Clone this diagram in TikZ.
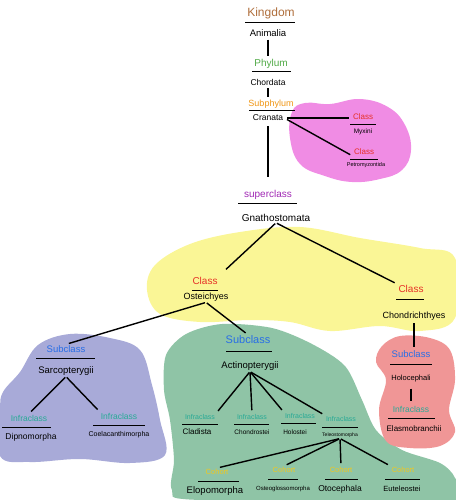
\documentclass[tikz,border=0pt]{standalone}
\usepackage{fontspec}
\setmainfont{Liberation Sans}
\newcommand{\fs}[1]{\fontsize{#1}{#1}\selectfont}
\begin{document}
\begin{tikzpicture}[x=1pt,y=-1pt,
  rank/.style={inner sep=1pt,font=\fs{9}},
  taxon/.style={inner sep=1pt,font=\fs{9}},
  ul/.style={line width=0.9pt},
  link/.style={line width=1.4pt,shorten >=2pt,shorten <=2pt},
  branch/.style={line width=1.4pt,shorten >=3pt,shorten <=1pt}]
\useasboundingbox (0,0) rectangle (455,500);
\definecolor{cpink}{RGB}{240,140,228}
\definecolor{cyellow}{RGB}{250,246,150}
\definecolor{clav}{RGB}{168,170,216}
\definecolor{cgreen}{RGB}{143,196,166}
\definecolor{csalmon}{RGB}{240,150,150}
\definecolor{cbrown}{RGB}{175,110,60}
\definecolor{cgr}{RGB}{80,170,70}
\definecolor{corange}{RGB}{240,150,20}
\definecolor{cpurp}{RGB}{160,40,180}
\definecolor{cred}{RGB}{230,50,40}
\definecolor{cblue}{RGB}{40,110,230}
\definecolor{cteal}{RGB}{40,170,150}
\definecolor{cgold}{RGB}{240,200,30}
% blobs
\fill[cpink] plot[smooth cycle,tension=0.7] coordinates {(292,112) (305,103) (330,104) (360,99) (388,107) (405,125) (411,150) (402,170) (380,179) (352,182) (325,176) (300,164) (290,138)};
\fill[cyellow] plot[smooth cycle,tension=0.6] coordinates {(155,265) (190,244) (240,232) (300,227) (360,238) (420,248) (455,258) (455,318) (420,331) (380,326) (330,331) (290,322) (250,320) (200,322) (160,314) (147,290)};
\fill[clav] plot[smooth cycle,tension=0.6] coordinates {(3,392) (20,372) (38,345) (70,334) (110,338) (140,350) (152,385) (160,420) (165,455) (130,463) (80,459) (30,462) (0,456) (0,410)};
\fill[cgreen] plot[smooth cycle,tension=0.5] coordinates {(166,355) (186,334) (222,324) (272,328) (312,344) (345,366) (362,400) (376,430) (402,450) (440,463) (455,478) (455,500) (200,500) (172,490) (174,460) (170,420) (164,390)};
\fill[csalmon] plot[smooth cycle,tension=0.6] coordinates {(382,346) (400,336) (430,338) (450,350) (455,380) (449,410) (455,432) (440,446) (410,448) (386,441) (379,410) (386,380) (376,362)};
% top chain
\node[rank,text=cbrown,font=\fs{12}] (lkingdom) at (271,13) {Kingdom};
\draw[ul] (245,22) -- (295,22);
\node[taxon,font=\fs{9.5}] (animalia) at (268,33) {Animalia};
\node[rank,text=cgr,font=\fs{10}] (lphylum) at (271,64) {Phylum};
\draw[ul] (252,71) -- (291,71);
\node[taxon,font=\fs{8.5}] (chordata) at (268,82) {Chordata};
\node[rank,text=corange,font=\fs{9}] (lsubphylum) at (271,104) {Subphylum};
\draw[ul] (249,110) -- (295,110);
\node[taxon,font=\fs{8.5}] (cranata) at (268,118) {Cranata};
\draw[link] (animalia.south) -- (animalia.south |- lphylum.north);
\draw[link] (chordata.south) -- (chordata.south |- lsubphylum.north);
% agnathans
\node[rank,text=cred,font=\fs{8}] (lclassa) at (363,117) {Class};
\draw[ul] (350,124) -- (376,124);
\node[taxon,font=\fs{6.5}] (myxini) at (363,132) {Myxini};
\node[rank,text=cred,font=\fs{8}] (lclassb) at (364,152) {Class};
\draw[ul] (350,159) -- (378,159);
\node[taxon,font=\fs{5.5}] (petro) at (366,165) {Petromyzontida};
\draw[branch,shorten <=3pt] (cranata.east) -- (lclassa.west |- cranata.east);
\draw[branch,shorten <=3pt] (cranata.east) -- (lclassb.south west);
% superclass
\node[rank,text=cpurp,font=\fs{10}] (lsuper) at (268,195) {superclass};
\draw[ul] (238,203) -- (297,203);
\node[taxon,font=\fs{10}] (gnatho) at (276,218) {Gnathostomata};
\draw[link,shorten >=12pt,shorten <=4pt] (cranata.south) -- (lsuper.north);
% classes
\node[rank,text=cred,font=\fs{10}] (lclassc) at (205,281) {Class};
\draw[ul] (192,290) -- (218,290);
\node[taxon,font=\fs{9}] (osteich) at (206,297) {Osteichyes};
\node[rank,text=cred,font=\fs{10}] (lclassd) at (411,289) {Class};
\draw[ul] (396,299) -- (424,299);
\node[taxon,font=\fs{9}] (chondr) at (414,316) {Chondrichthyes};
\draw[branch,shorten >=10pt] (gnatho.south) -- (lclassc.north east);
\draw[branch] (gnatho.south) -- (lclassd.north west);
% osteichthyes branches
\node[rank,text=cblue,font=\fs{9.5}] (lsubsarc) at (66,349) {Subclass};
\draw[ul] (36,358) -- (95,358);
\node[taxon,font=\fs{9.5}] (sarco) at (66,371) {Sarcopterygii};
\node[rank,text=cblue,font=\fs{11}] (lsubact) at (248,340) {Subclass};
\draw[ul] (226,351) -- (272,351);
\node[taxon,font=\fs{9.5}] (actino) at (250,366) {Actinopterygii};
\draw[branch] (osteich.south) -- (lsubsarc.north);
\draw[branch] (osteich.south) -- (lsubact.north);
% sarcopterygii
\node[rank,text=cteal,font=\fs{8.5}] (linfdip) at (29,418) {Infraclass};
\draw[ul] (2,427) -- (51,427);
\node[taxon,font=\fs{8.5}] (dipno) at (31,437) {Dipnomorpha};
\node[rank,text=cteal,font=\fs{8.5}] (linfcoe) at (119,416) {Infraclass};
\draw[ul] (93,425) -- (145,425);
\node[taxon,font=\fs{7}] (coela) at (119,435) {Coelacanthimorpha};
\draw[branch] (sarco.south) -- (linfdip.north);
\draw[branch] (sarco.south) -- (linfcoe.north west);
% actinopterygii
\node[rank,text=cteal,font=\fs{7}] (linf1) at (200,417) {Infraclass};
\draw[ul] (182,424) -- (218,424);
\node[taxon,font=\fs{8}] (clad) at (197,432) {Cladista};
\node[rank,text=cteal,font=\fs{7}] (linf2) at (252,417) {Infraclass};
\draw[ul] (234,424) -- (269,424);
\node[taxon,font=\fs{6.5}] (chond) at (252,432) {Chondrostei};
\node[rank,text=cteal,font=\fs{7}] (linf3) at (300,416) {Infraclass};
\draw[ul] (281,423) -- (316,423);
\node[taxon,font=\fs{6.5}] (holo) at (295,432) {Holostei};
\node[rank,text=cteal,font=\fs{7}] (linf4) at (341,419) {Infraclass};
\draw[ul] (322,427) -- (358,427);
\node[taxon,font=\fs{5}] (teleo) at (340,435) {Teleostomorpha};
\draw[branch] (actino.south) -- (linf1.north east);
\draw[branch] (actino.south) -- (linf2.north);
\draw[branch] (actino.south) -- (linf3.north west);
\draw[branch] (actino.south) -- (linf4.north west);
% teleostomorpha cohorts
\node[rank,text=cgold,font=\fs{7.5}] (lco1) at (217,472) {Cohort};
\draw[ul] (198,481) -- (239,481);
\node[taxon,font=\fs{9.5}] (elop) at (215,491) {Elopomorpha};
\node[rank,text=cgold,font=\fs{7.5}] (lco2) at (284,470) {Cohort};
\draw[ul] (268,479) -- (298,479);
\node[taxon,font=\fs{6}] (osteo) at (283,489) {Osteoglossomorpha};
\node[rank,text=cgold,font=\fs{7.5}] (lco3) at (341,470) {Cohort};
\draw[ul] (325,479) -- (358,479);
\node[taxon,font=\fs{8.5}] (otoc) at (340,489) {Otocephala};
\node[rank,text=cgold,font=\fs{7.5}] (lco4) at (403,470) {Cohort};
\draw[ul] (385,479) -- (420,479);
\node[taxon,font=\fs{7.5}] (eutel) at (402,489) {Euteleostei};
\draw[branch] (teleo.south) -- (lco1.north);
\draw[branch] (teleo.south) -- (lco2.north);
\draw[branch] (teleo.south) -- (lco3.north);
\draw[branch] (teleo.south) -- (lco4.north west);
% chondrichthyes
\node[rank,text=cblue,font=\fs{9.5}] (lsubhol) at (411,354) {Subclass};
\draw[ul] (390,364) -- (432,364);
\node[taxon,font=\fs{7.5}] (holoc) at (411,379) {Holocephali};
\node[rank,text=cteal,font=\fs{8.5}] (linfel) at (411,409) {Infraclass};
\draw[ul] (388,418) -- (435,418);
\node[taxon,font=\fs{8}] (elasmo) at (414,429) {Elasmobranchii};
\draw[link] (chondr.south) -- (chondr.south |- lsubhol.north);
\draw[link,shorten <=5pt,shorten >=4pt] (holoc.south) -- (holoc.south |- linfel.north);
\end{tikzpicture}
\end{document}
